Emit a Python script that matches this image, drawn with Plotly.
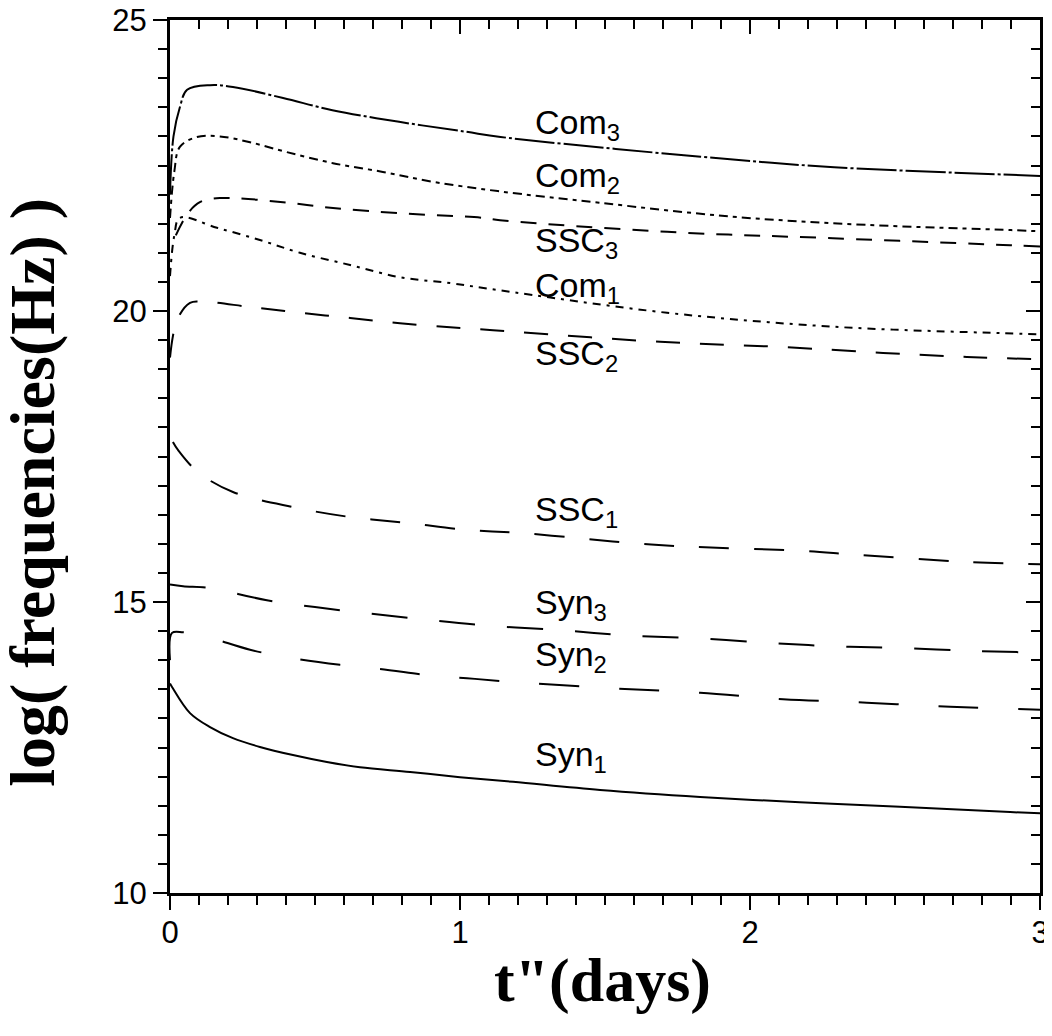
import plotly.graph_objects as go

# ---- data (t'' in days, log frequency in Hz) ----
com3_x = [0.0, 0.012, 0.034, 0.059, 0.138, 0.217, 0.39, 0.56, 0.79, 1.02, 1.14, 1.83, 2.29, 2.90, 3.0]
com3_y = [22.0, 23.0, 23.5, 23.8, 23.88, 23.85, 23.66, 23.45, 23.25, 23.08, 22.99, 22.65, 22.47, 22.34, 22.32]

com2_x = [0.0, 0.015, 0.034, 0.093, 0.172, 0.276, 0.403, 0.562, 0.734, 0.907, 1.13, 1.48, 1.94, 2.40, 2.90, 3.0]
com2_y = [21.6, 22.4, 22.82, 22.99, 23.0, 22.9, 22.73, 22.54, 22.39, 22.22, 22.06, 21.86, 21.62, 21.48, 21.39, 21.37]

ssc3_x = [0.02, 0.062, 0.103, 0.172, 0.39, 0.562, 0.793, 1.079, 1.138, 1.714, 2.286, 2.897, 3.0]
ssc3_y = [21.3, 21.68, 21.87, 21.94, 21.87, 21.77, 21.68, 21.60, 21.56, 21.36, 21.25, 21.13, 21.11]

com1_x = [0.0, 0.015, 0.034, 0.162, 0.31, 0.448, 0.621, 0.793, 0.966, 1.13, 1.714, 2.286, 2.862, 3.0]
com1_y = [20.6, 21.3, 21.6, 21.43, 21.22, 21.0, 20.79, 20.58, 20.48, 20.36, 19.97, 19.73, 19.62, 19.60]

ssc2_x = [0.0, 0.025, 0.069, 0.114, 0.276, 0.448, 0.621, 0.793, 0.966, 1.114, 1.69, 2.114, 2.459, 2.748, 3.0]
ssc2_y = [19.2, 19.85, 20.14, 20.16, 20.07, 19.97, 19.88, 19.79, 19.72, 19.67, 19.47, 19.38, 19.28, 19.21, 19.17]

ssc1_x = [0.01, 0.028, 0.097, 0.217, 0.424, 0.621, 0.817, 1.024, 1.197, 1.403, 1.597, 1.793, 2.172, 2.369, 2.748, 3.0]
ssc1_y = [17.75, 17.61, 17.23, 16.89, 16.63, 16.46, 16.36, 16.24, 16.19, 16.10, 16.01, 15.95, 15.88, 15.81, 15.69, 15.65]

syn3_x = [0.0, 0.045, 0.138, 0.334, 0.586, 0.838, 1.079, 1.334, 1.562, 1.803, 2.059, 2.286, 2.517, 2.769, 3.0]
syn3_y = [15.3, 15.27, 15.24, 15.03, 14.86, 14.72, 14.60, 14.52, 14.43, 14.38, 14.30, 14.24, 14.21, 14.16, 14.13]

syn2_x = [0.0, 0.007, 0.045, 0.128, 0.276, 0.414, 0.586, 0.724, 0.907, 1.024, 1.172, 1.517, 1.828, 2.114, 2.403, 2.69, 3.0]
syn2_y = [14.0, 14.47, 14.48, 14.40, 14.18, 14.04, 13.92, 13.85, 13.73, 13.69, 13.63, 13.52, 13.44, 13.33, 13.27, 13.20, 13.15]

syn1_x = [0.0, 0.007, 0.069, 0.138, 0.217, 0.31, 0.424, 0.541, 0.655, 0.828, 1.0, 1.183, 1.483, 1.828, 2.172, 2.517, 2.897, 3.0]
syn1_y = [13.6, 13.54, 13.09, 12.85, 12.66, 12.51, 12.37, 12.25, 12.16, 12.08, 11.99, 11.91, 11.77, 11.65, 11.56, 11.48, 11.39, 11.37]

label_names = ["Com<sub>3</sub>", "Com<sub>2</sub>", "SSC<sub>3</sub>", "Com<sub>1</sub>", "SSC<sub>2</sub>",
               "SSC<sub>1</sub>", "Syn<sub>3</sub>", "Syn<sub>2</sub>", "Syn<sub>1</sub>"]
label_y = [23.2, 22.29, 21.17, 20.40, 19.24, 16.55, 14.95, 14.06, 12.34]
label_x = 1.252

x_ticks = [0, 1, 2, 3]
y_ticks = [10, 15, 20, 25]

series = [
    (com3_x, com3_y, "40px,3px,3px,3px"),
    (com2_x, com2_y, "9px,5px,4px,5px"),
    (ssc3_x, ssc3_y, "16px,12px"),
    (com1_x, com1_y, "8px,6px,3px,6px"),
    (ssc2_x, ssc2_y, "24px,20px"),
    (ssc1_x, ssc1_y, "30px,25px"),
    (syn3_x, syn3_y, "36px,32px"),
    (syn2_x, syn2_y, "40px,40px"),
    (syn1_x, syn1_y, "solid"),
]

fig = go.Figure()
for xs, ys, dash in series:
    fig.add_trace(go.Scatter(x=xs, y=ys, mode="lines",
                             line=dict(color="black", width=2, dash=dash, shape="spline"),
                             showlegend=False, hoverinfo="skip"))

for name, yy in zip(label_names, label_y):
    fig.add_annotation(x=label_x, y=yy, xref="x", yref="y", text=name, showarrow=False,
                       xanchor="left", yanchor="middle",
                       font=dict(family="Liberation Sans, Arial", size=34, color="black"))

# axis titles
fig.add_annotation(x=-0.158, y=0.459, xref="paper", yref="paper", text="<b>log( frequencies(Hz) )</b>",
                   textangle=-90, showarrow=False, xanchor="center", yanchor="middle",
                   font=dict(family="Liberation Serif, Times New Roman", size=64, color="black"))
fig.add_annotation(x=0.497, y=-0.058, xref="paper", yref="paper", text='<b>t"(days)</b>',
                   showarrow=False, xanchor="center", yanchor="top",
                   font=dict(family="Liberation Serif, Times New Roman", size=62, color="black"))

tfont = dict(family="Liberation Sans, Arial", size=31, color="black")
axis_common = dict(showgrid=False, zeroline=False, linecolor="black", linewidth=3,
                   tickcolor="black", tickwidth=2, ticklen=14, automargin=False,
                   ticklabeloverflow="allow", tickfont=tfont)

# page body has an 8px margin, so the figure is shrunk by 8px and the margins shifted
fig.update_layout(
    width=1044, height=1028,
    margin=dict(l=162, r=12, t=12, b=143, autoexpand=False),
    plot_bgcolor="white", paper_bgcolor="white",
    xaxis=dict(range=[0, 3], tickvals=x_ticks, ticks="outside", showline=True, showticklabels=False,
               minor=dict(dtick=0.1, ticks="outside", ticklen=9, tickcolor="black", tickwidth=2),
               **axis_common),
    yaxis=dict(range=[10, 25], tickvals=y_ticks, ticks="outside", showline=True,
               minor=dict(dtick=0.5, ticks="outside", ticklen=9, tickcolor="black", tickwidth=2),
               **axis_common),
    xaxis2=dict(range=[0, 3], overlaying="x", side="top", anchor="y", showticklabels=False,
                tickvals=x_ticks, ticks="inside", showline=True,
                minor=dict(dtick=0.1, ticks="inside", ticklen=9, tickcolor="black", tickwidth=2),
                **axis_common),
    yaxis2=dict(range=[10, 25], overlaying="y", side="right", anchor="x", showticklabels=False,
                tickvals=y_ticks, ticks="inside", showline=True,
                minor=dict(dtick=0.5, ticks="inside", ticklen=9, tickcolor="black", tickwidth=2),
                **axis_common),
    # bottom tick labels only, placed a little closer to the axis line
    xaxis3=dict(range=[0, 3], overlaying="x", side="bottom", anchor="y", tickvals=x_ticks,
                ticks="outside", ticklen=12, tickcolor="rgba(0,0,0,0)",
                showline=False, showgrid=False, zeroline=False, automargin=False,
                ticklabeloverflow="allow", tickfont=tfont),
)
# dummy traces to activate secondary axes
fig.add_trace(go.Scatter(x=[None], y=[None], xaxis="x2", yaxis="y2", showlegend=False, hoverinfo="skip"))
fig.add_trace(go.Scatter(x=[None], y=[None], xaxis="x3", yaxis="y", showlegend=False, hoverinfo="skip"))

fig.write_html("out.html")
